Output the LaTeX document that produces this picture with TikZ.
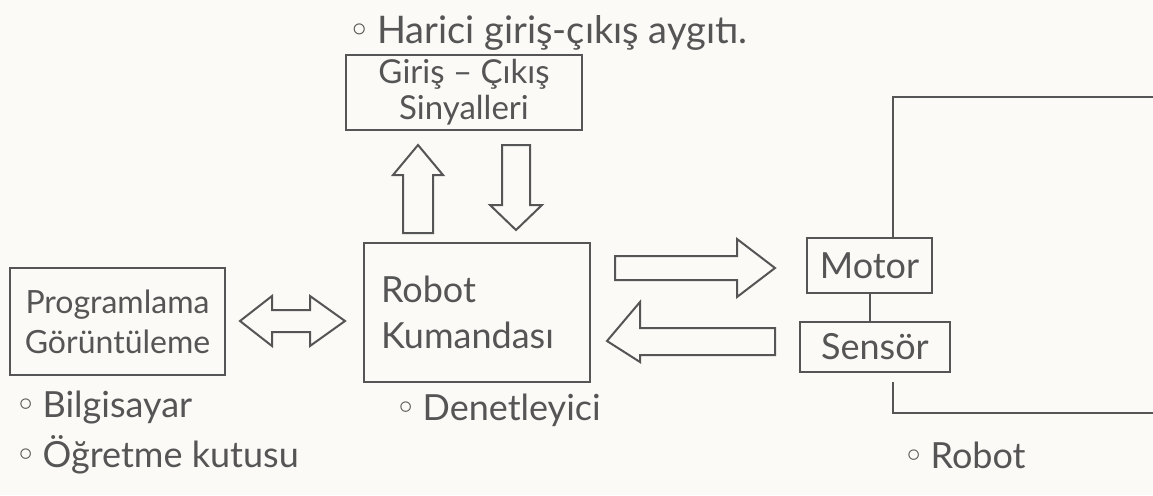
\documentclass[tikz,border=0pt]{standalone}
\usepackage{fontspec}
\setmainfont{Lato}
\newfontfamily\symfont{DejaVu Sans}
\newcommand{\bul}{{\symfont ◦}\,}
\usetikzlibrary{calc}
\definecolor{pencil}{HTML}{555555}
\definecolor{paper}{HTML}{FBFAF7}
\begin{document}
\begin{tikzpicture}[x=0.5pt,y=-0.5pt,
  every node/.style={text=pencil,font=\fontsize{16}{20}\selectfont},
  big/.style={font=\fontsize{18}{21}\selectfont},
  box/.style={draw=pencil,line width=1.1pt,inner sep=0pt,align=center},
  hollow/.style={draw=pencil,line width=1pt,fill=none,line join=miter},
  wire/.style={draw=pencil,line width=1pt},
  note/.style={anchor=west,inner sep=0pt}]
  % page
  \fill[paper] (0,0) rectangle (1153,495);
  \useasboundingbox (0,0) rectangle (1153,495);

  % blocks
  \node[box,font=\fontsize{16.5}{18}\selectfont,minimum width=118pt,minimum height=37.5pt]
    (io) at (464,92.5) {Giriş – Çıkış\\Sinyalleri};
  \node[box,big,minimum width=113pt,minimum height=69.5pt,align=left,text width=96pt]
    (ctrl) at (477,312.5) {Robot\\[2pt]Kumandası};
  \node[box,minimum width=107.5pt,minimum height=53.5pt] (prog) at (117.5,321.5)
    {Programlama\\Görüntüleme};
  \node[box,big,minimum width=62.5pt,minimum height=27.5pt] (motor) at (869.5,265.5) {Motor};
  \node[box,big,minimum width=75pt,minimum height=25pt] (sensor) at (875,347) {Sensör};

  % notes
  \node[note,font=\fontsize{19}{22}\selectfont] (nio) at (348,33) {\bul Harici giriş-çıkış aygıtı.};
  \node[note,big] (nctrl) at (395,410) {\bul Denetleyici};
  \node[note,big] (npc) at (15,408) {\bul Bilgisayar};
  \node[note,big] (nteach) at (15,455) {\bul Öğretme kutusu};
  \node[note,big] (nrobot) at (903,455) {\bul Robot};

  % hollow block arrows between the blocks
  % controller -> io (up)
  \draw[hollow] (403,233) -- (403,175) -- (393,175) -- (418,145) -- (443,175)
    -- (433,175) -- (433,233) -- cycle;
  % io -> controller (down)
  \draw[hollow] (502,145) -- (530,145) -- (530,205) -- (542,205) -- (516,230)
    -- (490,205) -- (502,205) -- cycle;
  % programming <-> controller
  \draw[hollow] (240,321) -- (272,296) -- (272,310) -- (310,310) -- (310,296)
    -- (345,321) -- (310,346) -- (310,332) -- (272,332) -- (272,346) -- cycle;
  % controller -> motor
  \draw[hollow] (615,256) -- (737,256) -- (737,239) -- (775,268) -- (737,297)
    -- (737,280) -- (615,280) -- cycle;
  % sensor -> controller
  \draw[hollow] (775,328) -- (640,328) -- (640,302) -- (607,341) -- (640,362)
    -- (640,355) -- (775,355) -- cycle;

  % motor - sensor link
  \draw[wire] (motor.south) -- (motor.south |- sensor.north);

  % robot outline
  \coordinate (rtl) at (893,97);
  \coordinate (rtr) at (1153,97);
  \coordinate (rbl) at (893,413);
  \coordinate (rbr) at (1153,413);
  \draw[wire] (motor.north -| rtl) -- (rtl) -- (rtr);
  \draw[wire] ($(rbl)+(0,-31)$) -- (rbl) -- (rbr);
\end{tikzpicture}
\end{document}
